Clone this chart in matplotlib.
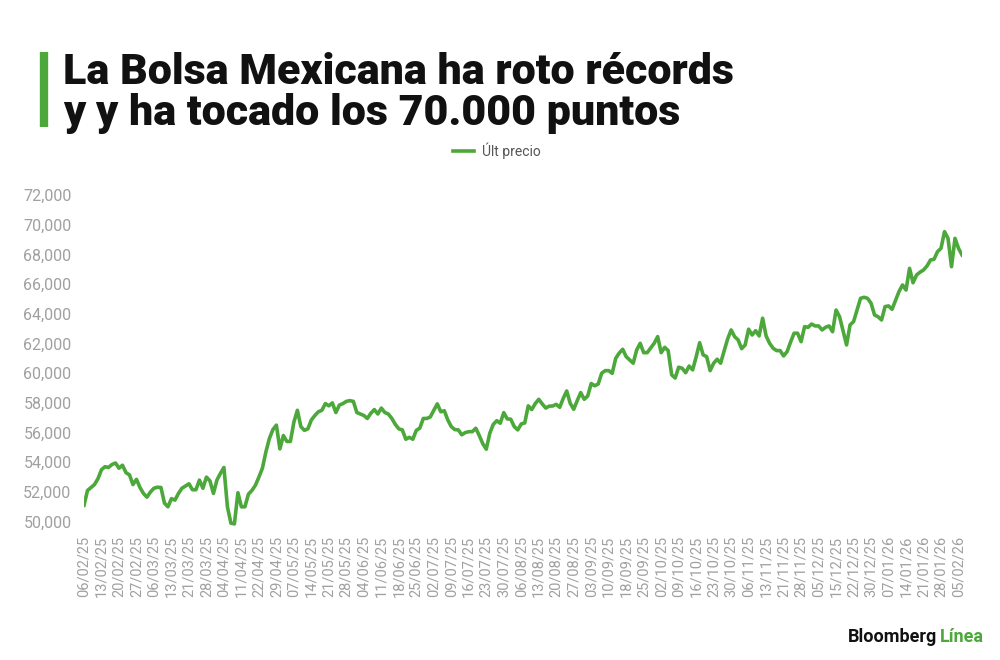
import numpy as np
import matplotlib
matplotlib.use("Agg")
import matplotlib.pyplot as plt

# IPC closing level, one value per trading day
values = [
    51100, 52100, 52300, 52500, 52900, 53500, 53700, 53650, 53850, 53950,
    53600, 53800, 53300, 53150, 52500, 52850, 52300, 51900, 51650, 52000,
    52250, 52320, 52300, 51250, 51000, 51550, 51450, 51900, 52250, 52400,
    52550, 52150, 52150, 52800, 52250, 53000, 52750, 51900, 52800, 53250,
    53650, 51000, 49900, 49850, 51950, 51000, 51000, 51850, 52100, 52450,
    53000, 53600, 54700, 55600, 56200, 56500, 54900, 55800, 55400, 55400,
    56700, 57500, 56400, 56150, 56250, 56850, 57150, 57400, 57500, 57950,
    57800, 58000, 57350, 57850, 57950, 58100, 58150, 58100, 57350, 57250,
    57150, 56950, 57300, 57550, 57250, 57650, 57350, 57250, 56950, 56550,
    56250, 56180, 55550, 55680, 55550, 56150, 56300, 56950, 56950, 57050,
    57500, 57930, 57400, 57470, 56850, 56400, 56200, 56180, 55850, 56000,
    56060, 56060, 56290, 55800, 55250, 54880, 55950, 56550, 56800, 56630,
    57340, 56920, 56900, 56400, 56180, 56580, 56650, 57800, 57550, 57950,
    58240, 57930, 57650, 57780, 57790, 57900, 57700, 58300, 58800, 57970,
    57570, 58150, 58690, 58240, 58460, 59300, 59150, 59270, 60000, 60170,
    60170, 59990, 61000, 61350, 61610, 61110, 60890, 60670, 61560, 62010,
    61380, 61380, 61700, 62010, 62460, 61380, 61740, 61520, 59890, 59670,
    60400, 60330, 60030, 60480, 60220, 61100, 62050, 61230, 61110, 60170,
    60670, 60940, 60670, 61500, 62300, 62910, 62460, 62240, 61650, 61900,
    62960, 62570, 62860, 62510, 63700, 62510, 62010, 61680, 61520, 61520,
    61160, 61450, 62100, 62690, 62690, 62120, 63130, 63090, 63310, 63180,
    63180, 62910, 63090, 63180, 62790, 64250, 63800, 62850, 61900, 63250,
    63470, 64250, 65040, 65110, 65040, 64710, 63920, 63800, 63580, 64480,
    64530, 64300, 64900, 65500, 65940, 65600, 67060, 66090, 66610, 66800,
    66950, 67220, 67620, 67670, 68180, 68410, 69530, 69080, 67170, 69080,
    68410, 67960,
]

# every fifth trading day is labelled
tick_labels = [
    "06/02/25", "13/02/25", "20/02/25", "27/02/25", "06/03/25", "13/03/25",
    "21/03/25", "28/03/25", "04/04/25", "11/04/25", "22/04/25", "29/04/25",
    "07/05/25", "14/05/25", "21/05/25", "28/05/25", "04/06/25", "11/06/25",
    "18/06/25", "25/06/25", "02/07/25", "09/07/25", "16/07/25", "23/07/25",
    "30/07/25", "06/08/25", "13/08/25", "20/08/25", "27/08/25", "03/09/25",
    "10/09/25", "18/09/25", "25/09/25", "02/10/25", "09/10/25", "16/10/25",
    "23/10/25", "30/10/25", "06/11/25", "13/11/25", "21/11/25", "28/11/25",
    "05/12/25", "15/12/25", "22/12/25", "30/12/25", "07/01/26", "14/01/26",
    "21/01/26", "28/01/26", "05/02/26",
]

y_ticks = [50000, 52000, 54000, 56000, 58000, 60000, 62000, 64000, 66000,
           68000, 70000, 72000]

green = "#4ca83a"
gray = "#a0a0a0"

plt.rcParams["font.family"] = ["Roboto", "DejaVu Sans"]

fig = plt.figure(figsize=(10, 6.6), dpi=100)
ax = fig.add_axes([0.084, 0.2006, 0.878, 0.504])

x = np.arange(len(values))
ax.plot(x, values, color=green, linewidth=2.6, solid_joinstyle="round",
        label="Últ precio")

ax.set_xlim(0, len(values) - 1)
ax.set_ylim(49600, 72000)
ax.set_xticks(np.arange(0, len(tick_labels) * 5, 5))
ax.set_xticklabels(tick_labels, rotation=90, fontsize=10.5, color=gray)
ax.set_yticks(y_ticks)
ax.set_yticklabels([f"{v:,}" for v in y_ticks], fontsize=11.5, color=gray)
ax.tick_params(axis="y", length=0, pad=9)
ax.tick_params(axis="x", length=0, pad=6)
for s in ax.spines.values():
    s.set_visible(False)

# legend
ax.legend(loc="lower center", bbox_to_anchor=(0.47, 1.07), frameon=False,
          fontsize=10, handlelength=1.5, handletextpad=0.6,
          labelcolor="#555555")

# title with green bar
fig.add_artist(plt.Line2D([0.044, 0.044], [0.807, 0.921], color=green,
                          linewidth=6, solid_capstyle="butt"))
fig.text(0.063, 0.872, "La Bolsa Mexicana ha roto récords", fontsize=31,
         fontweight="black", color="#111111", va="baseline")
fig.text(0.063, 0.81, "y y ha tocado los 70.000 puntos", fontsize=31,
         fontweight="black", color="#111111", va="baseline")

# logo
fig.text(0.937, 0.028, "Bloomberg", fontsize=13, fontweight="bold",
         color="#111111", ha="right")
fig.text(0.940, 0.028, "Línea", fontsize=13, fontweight="bold",
         color=green, ha="left")

fig.savefig("out.png", dpi=100)
